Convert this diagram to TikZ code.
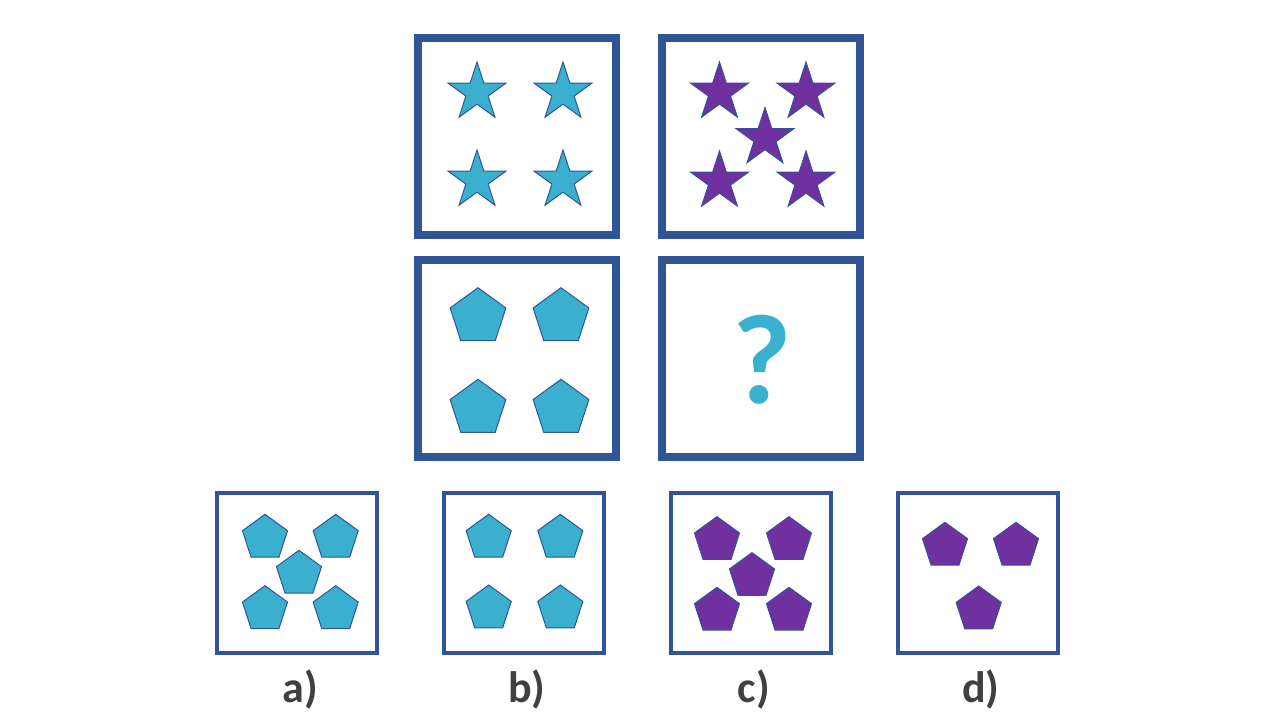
\documentclass[tikz,border=0pt]{standalone}
\usepackage{fontspec}
\setmainfont{Carlito}
\usepackage{tikz}
\usetikzlibrary{shapes.geometric}

\definecolor{frameblue}{HTML}{2F5597}
\definecolor{cyanfill}{HTML}{3BB0CE}
\definecolor{purplefill}{HTML}{7030A0}
\definecolor{labelgray}{HTML}{404040}

\tikzset{
  bigframe/.style={draw=frameblue,line width=4pt,minimum width=99pt,minimum height=98.5pt,inner sep=0pt},
  smallframe/.style={draw=frameblue,line width=2pt,minimum width=80pt,minimum height=80pt,inner sep=0pt},
  bigstar/.style={star,star points=5,star point ratio=2.618,minimum size=30.5pt,inner sep=0pt,draw=frameblue,line width=0.5pt},
  bigpenta/.style={regular polygon,regular polygon sides=5,minimum size=29.3pt,inner sep=0pt,draw=frameblue,line width=0.5pt},
  smallpenta/.style={regular polygon,regular polygon sides=5,minimum size=23.7pt,inner sep=0pt,draw=frameblue,line width=0.5pt},
  choice/.style={font=\bfseries\fontsize{22}{26}\selectfont,text=labelgray,anchor=base,inner sep=0pt}
}

\begin{document}
\begin{tikzpicture}[x=0.5pt,y=-0.5pt]
\useasboundingbox (0,0) rectangle (1280,720);

%-------------------------------------------------------------------
% Puzzle grid (2x2)
\node[bigframe] (gridA) at (517,136.5) {};
\node[bigframe] (gridB) at (761,136.5) {};
\node[bigframe] (gridC) at (517,358.5) {};
\node[bigframe] (gridD) at (761,358.5) {};

% Cyan stars
\foreach \x/\y [count=\i] in {477/92.5,563/92.5,477/180.5,563/180.5}{
    \node[bigstar,fill=cyanfill] (starA\i) at (\x,\y) {};
}
% Purple stars
\foreach \x/\y [count=\i] in {719.5/92.5,806/92.5,765/138,719.5/181.5,806/181.5}{
    \node[bigstar,fill=purplefill] (starB\i) at (\x,\y) {};
}
% Cyan pentagons
\foreach \x/\y [count=\i] in {478/317,561/317,478/408.6,561/408.6}{
    \node[bigpenta,fill=cyanfill] (pentC\i) at (\x,\y) {};
}
% Missing cell
\node[font=\bfseries\fontsize{64}{68}\selectfont,text=cyanfill,anchor=base,inner sep=0pt]
  (qmark) at (762.5,403.7) {?};

%-------------------------------------------------------------------
% Answer choices
\foreach \x/\lbl in {297/a,524/b,751/c,978/d}{
    \node[smallframe] (opt\lbl) at (\x,573) {};
    \node[choice] (lbl\lbl) at (\x+3,702) {\lbl)};
}

% a) five cyan
\foreach \x/\y [count=\i] in {265/538,335.7/538,299/574,265/609.4,335.7/609.4}{
    \node[smallpenta,fill=cyanfill] (pentA\i) at (\x,\y) {};
}
% b) four cyan
\foreach \x/\y [count=\i] in {488.7/538,560.3/538,488.7/608.7,560.3/608.7}{
    \node[smallpenta,fill=cyanfill] (pentB\i) at (\x,\y) {};
}
% c) five purple
\foreach \x/\y [count=\i] in {717/540.3,789/540.3,752/576.3,717/611,789/611}{
    \node[smallpenta,fill=purplefill] (pentCc\i) at (\x,\y) {};
}
% d) three purple
\foreach \x/\y [count=\i] in {945/546,1016/546,978.7/609.7}{
    \node[smallpenta,fill=purplefill] (pentD\i) at (\x,\y) {};
}

\end{tikzpicture}
\end{document}
